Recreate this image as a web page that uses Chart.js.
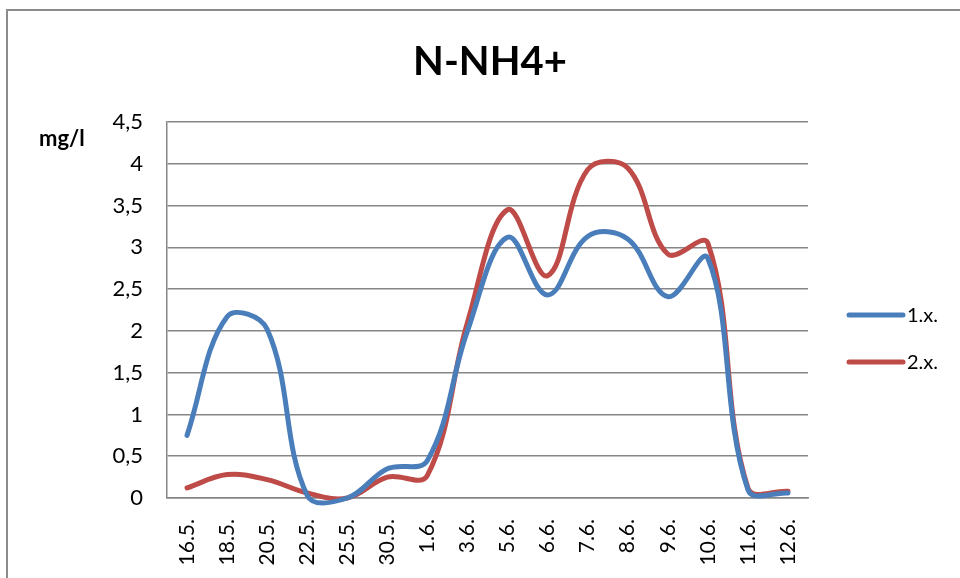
<!DOCTYPE html>
<html>
<head>
<meta charset="utf-8">
<script src="https://cdn.jsdelivr.net/npm/chart.js@4/dist/chart.umd.min.js"></script>
<style>
  html, body { margin: 0; padding: 0; background: #fff; }
  #wrap { position: relative; width: 960px; height: 578px; overflow: hidden; }
  #frame { position: absolute; left: 6px; top: 9px; width: 1000px; height: 1000px;
           border-top: 2px solid #8c8c8c; border-left: 2px solid #8c8c8c; }
  #chart { position: absolute; left: 0; top: 0; }
</style>
</head>
<body>
<div id="wrap">
  <div id="frame"></div>
  <canvas id="chart" width="960" height="578"></canvas>
</div>
<script>
const categories = ['16.5.', '18.5.', '20.5.', '22.5.', '25.5.', '30.5.', '1.6.', '3.6.',
                    '5.6.', '6.6.', '7.6.', '8.6.', '9.6.', '10.6.', '11.6.', '12.6.'];
const series1 = [0.75, 2.17, 2.02, 0.03, 0.0, 0.35, 0.45, 2.0, 3.12, 2.43, 3.13, 3.1, 2.41, 2.87, 0.1, 0.06];
const series2 = [0.12, 0.28, 0.22, 0.06, 0.0, 0.25, 0.27, 2.1, 3.45, 2.66, 3.93, 3.95, 2.92, 3.05, 0.12, 0.08];
const yTickLabels = ['0', '0,5', '1', '1,5', '2', '2,5', '3', '3,5', '4', '4,5'];
const chartTitle = 'N-NH4+';
const unitLabel = 'mg/l';

const FONT = 'Lato, "Open Sans", sans-serif';

// naslov, "mg/l" oznaka i legenda desno
const extras = {
  id: 'extras',
  afterDraw(chart) {
    const c = chart.ctx;
    const a = chart.chartArea;
    c.save();
    c.fillStyle = '#000';
    c.textBaseline = 'middle';

    c.textAlign = 'center';
    c.font = 'bold 40px ' + FONT;
    c.fillText(chartTitle, 490, 62);

    c.textAlign = 'left';
    c.font = 'bold 22px ' + FONT;
    c.fillText(unitLabel, 39, 139);

    c.font = '20px ' + FONT;
    chart.data.datasets.forEach((ds, i) => {
      const y = 315 + i * 47;
      c.strokeStyle = ds.borderColor;
      c.lineWidth = 5;
      c.lineCap = 'round';
      c.beginPath();
      c.moveTo(a.right + 41, y);
      c.lineTo(a.right + 95, y);
      c.stroke();
      c.fillText(ds.label, a.right + 99, y + 1);
    });
    c.restore();
  }
};

new Chart(document.getElementById('chart'), {
  type: 'line',
  data: {
    labels: categories,
    datasets: [
      { label: '1.x.', data: series1, borderColor: '#4a7ebb', borderWidth: 5 },
      { label: '2.x.', data: series2, borderColor: '#be4b48', borderWidth: 5 }
    ]
  },
  options: {
    responsive: false,
    animation: false,
    layout: { padding: { left: 7, right: 152, top: 122, bottom: 0 } },
    elements: {
      point: { radius: 0 },
      line: { tension: 0.38, capBezierPoints: false, borderCapStyle: 'round' }
    },
    datasets: { line: { clip: false } },
    plugins: {
      legend: { display: false },
      tooltip: { enabled: false },
      title: { display: false }
    },
    scales: {
      x: {
        offset: true,
        grid: { display: false },
        border: { display: true, color: '#868686', width: 1.5 },
        ticks: {
          color: '#000',
          font: { family: FONT, size: 21 },
          minRotation: 90,
          maxRotation: 90,
          padding: 13,
          autoSkip: false
        },
        afterFit(scale) { scale.height = 80; }
      },
      y: {
        min: 0,
        max: 4.5,
        grid: { color: '#868686', lineWidth: 1.5, drawTicks: false },
        border: { display: true, color: '#868686', width: 1.5 },
        ticks: {
          stepSize: 0.5,
          color: '#000',
          font: { family: FONT, size: 22 },
          padding: 24,
          callback: (v, i) => yTickLabels[i]
        },
        afterFit(scale) { scale.width = 160; }
      }
    }
  },
  plugins: [extras]
});
</script>
</body>
</html>
